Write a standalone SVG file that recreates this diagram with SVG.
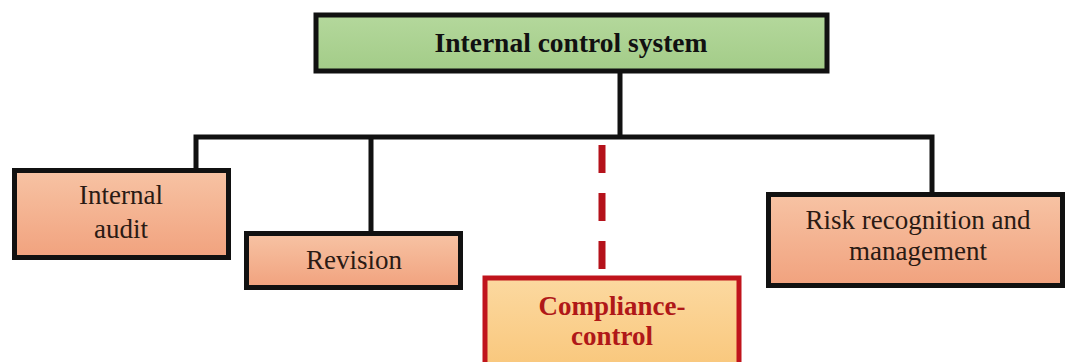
<svg xmlns="http://www.w3.org/2000/svg" width="1065" height="362" viewBox="0 0 1065 362">
<defs>
<linearGradient id="gGreen" x1="0" y1="0" x2="0" y2="1"><stop offset="0" stop-color="#b4d89c"/><stop offset="1" stop-color="#a3cc88"/></linearGradient>
<linearGradient id="gOrange" x1="0" y1="0" x2="0" y2="1"><stop offset="0" stop-color="#f7c3a4"/><stop offset="1" stop-color="#f1a27e"/></linearGradient>
<linearGradient id="gYellow" x1="0" y1="0" x2="0" y2="1"><stop offset="0" stop-color="#fcd9a0"/><stop offset="1" stop-color="#f9c77c"/></linearGradient>
</defs>
<style>
.box{stroke:#111;stroke-width:5}
.lbl{font-family:"Liberation Serif","Times New Roman",serif;font-size:27px;fill:#2a1a14;text-anchor:middle}
.conn{stroke:#111;stroke-width:5;fill:none}
</style>
<g id="connectors">
<path class="conn" d="M620 72 V137 M196 168 V137 H932 V192 M371 137 V232"/>
<line x1="602" y1="145" x2="602" y2="270" stroke="#b5121b" stroke-width="7" stroke-dasharray="28 20"/>
</g>
<g id="n-ics">
<rect class="box" x="316" y="15" width="511" height="56" fill="url(#gGreen)"/>
<text class="lbl" x="571" y="52" font-weight="bold" style="font-size:27.5px;fill:#111">Internal control system</text>
</g>
<g id="n-audit">
<rect class="box" x="14.5" y="170.5" width="214" height="87" fill="url(#gOrange)"/>
<text class="lbl" x="121" y="204">Internal</text>
<text class="lbl" x="121" y="238">audit</text>
</g>
<g id="n-revision">
<rect class="box" x="246.5" y="233.5" width="214" height="54" fill="url(#gOrange)"/>
<text class="lbl" x="354" y="269">Revision</text>
</g>
<g id="n-compliance">
<rect x="485" y="278" width="254" height="90" fill="url(#gYellow)" stroke="#c0141c" stroke-width="5"/>
<text class="lbl" x="612" y="315" font-weight="bold" style="fill:#b01818">Compliance-</text>
<text class="lbl" x="612" y="345" font-weight="bold" style="fill:#b01818">control</text>
</g>
<g id="n-risk">
<rect class="box" x="768.5" y="194.5" width="294" height="91" fill="url(#gOrange)"/>
<text class="lbl" x="918" y="229">Risk recognition and</text>
<text class="lbl" x="918" y="260">management</text>
</g>
</svg>
